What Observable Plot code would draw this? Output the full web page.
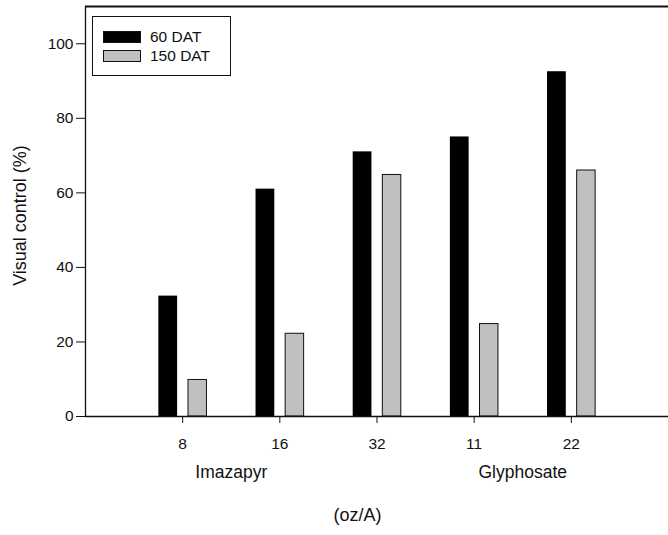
<!DOCTYPE html>
<html>
<head>
<meta charset="utf-8">
<script src="https://cdn.jsdelivr.net/npm/d3@7"></script>
<script src="https://cdn.jsdelivr.net/npm/@observablehq/plot@0.6"></script>
<style>
  body { margin: 0; background: #fff; }
  #wrap { position: relative; width: 668px; height: 535px; font-family: "Liberation Sans", Arial, sans-serif; color: #111; }
  #wrap svg [aria-label$="tick label"] { font-size: 15.5px !important; font-family: "Liberation Sans", Arial, sans-serif !important; }
  .legend { position: absolute; left: 92px; top: 16px; width: 139px; height: 60px; border: 1.5px solid #111; box-sizing: border-box; background: #fff; }
  .item { position: absolute; left: 10px; height: 12px; display: flex; align-items: center; font-size: 15.5px; white-space: nowrap; }
  .sw { width: 38px; height: 12px; box-sizing: border-box; border: 1px solid #111; margin-right: 9px; }
</style>
</head>
<body>
<div id="wrap"></div>
<script>
// ---- data ----
const doses = ["8", "16", "32", "11", "22"];
const seriesNames = ["60 DAT", "150 DAT"];
const dat60 = [32.3, 61.0, 71.0, 75.0, 92.5];
const dat150 = [9.8, 22.2, 64.8, 24.8, 66.0];
const herbicides = ["Imazapyr", "Glyphosate"];
const herbicideCenters = [1.5, 4.5];
const unitLabel = "(oz/A)";
const unitLabelPos = 2.8;
const yTicks = [0, 20, 40, 60, 80, 100];
const yLabel = "Visual control (%)";
const seriesColors = ["#000000", "#c0c0c0"];

const rows = [];
doses.forEach((d, i) => {
  rows.push({pos: i + 1, series: seriesNames[0], value: dat60[i]});
  rows.push({pos: i + 1, series: seriesNames[1], value: dat150[i]});
});
const positions = doses.map((d, i) => i + 1);

const font = '"Liberation Sans", Arial, sans-serif';

const chart = Plot.plot({
  width: 668,
  height: 535,
  marginLeft: 85,
  marginRight: 0,
  marginTop: 6,
  marginBottom: 119,
  style: {fontFamily: font, fontSize: "15px", color: "#111", background: "#fff"},
  x: {type: "linear", domain: [0, 6]},
  y: {domain: [0, 110]},
  color: {domain: seriesNames, range: seriesColors},
  marks: [
    Plot.rectY(rows.filter(r => r.series === seriesNames[0]), {
      x1: d => d.pos - 0.245, x2: d => d.pos - 0.052, y1: 0, y2: "value",
      fill: "series"
    }),
    Plot.rectY(rows.filter(r => r.series === seriesNames[1]), {
      x1: d => d.pos + 0.06, x2: d => d.pos + 0.25, y1: 0, y2: "value",
      fill: "series", stroke: "#111", strokeWidth: 1
    }),
    Plot.ruleY([0], {stroke: "#111", strokeWidth: 1.3}),
    Plot.ruleY([110], {stroke: "#111", strokeWidth: 2}),
    Plot.ruleX([0], {stroke: "#111", strokeWidth: 1.3}),
    Plot.axisY({ticks: yTicks, tickSize: 9, tickPadding: 3, label: null, stroke: "#111", fill: "#111", fontSize: 15.5}),
    Plot.axisX({ticks: positions, tickFormat: p => doses[p - 1], tickSize: 7, tickPadding: 14, label: null, stroke: "#111", fill: "#111", fontSize: 15.5}),
    Plot.text(herbicides, {x: (d, i) => herbicideCenters[i], frameAnchor: "bottom", dy: 61, text: d => d, fontSize: 17.5, fill: "#111"}),
    Plot.text([unitLabel], {x: () => unitLabelPos, frameAnchor: "bottom", dy: 104, text: d => d, fontSize: 18, fill: "#111"}),
    Plot.text([yLabel], {frameAnchor: "left", textAnchor: "middle", dx: -65, dy: 4, rotate: -90, text: d => d, fontSize: 18, fill: "#111"})
  ]
});

const wrap = document.getElementById("wrap");
wrap.appendChild(chart);

// legend (inside plot area, top-left)
const legend = document.createElement("div");
legend.className = "legend";
seriesNames.forEach((name, i) => {
  const item = document.createElement("div");
  item.className = "item";
  item.style.top = (14 + i * 19) + "px";
  const sw = document.createElement("div");
  sw.className = "sw";
  sw.style.background = seriesColors[i];
  item.appendChild(sw);
  const t = document.createElement("span");
  t.textContent = name;
  item.appendChild(t);
  legend.appendChild(item);
});
wrap.appendChild(legend);
</script>
</body>
</html>
